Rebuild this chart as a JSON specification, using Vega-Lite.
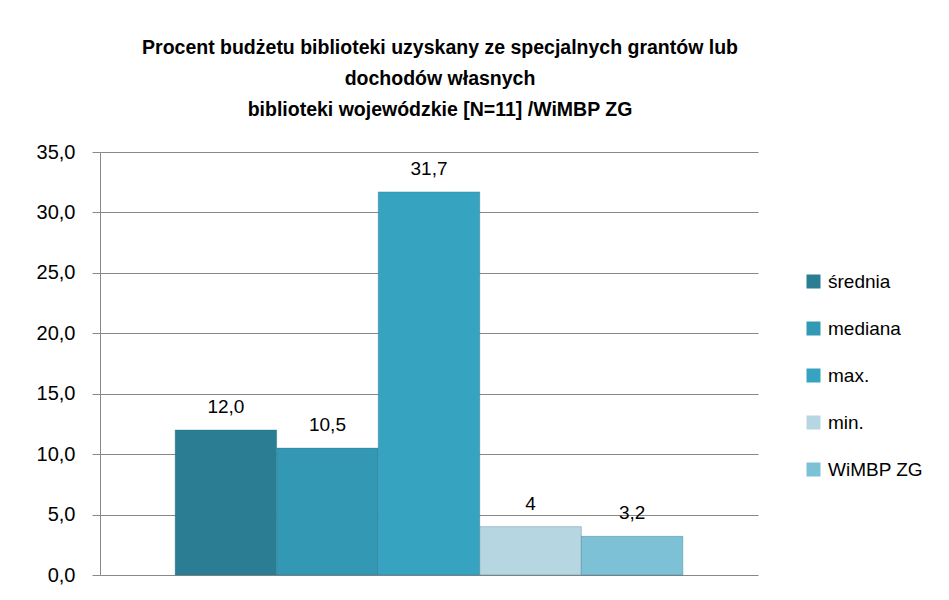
{
  "$schema": "https://vega.github.io/schema/vega-lite/v6.json",
  "autosize": "none",
  "width": 658,
  "height": 423,
  "padding": {"left": 100, "top": 152, "right": 191, "bottom": 25},
  "background": "white",
  "title": {
    "text": ["Procent budżetu biblioteki uzyskany ze specjalnych grantów lub", "dochodów własnych", "biblioteki wojewódzkie  [N=11] /WiMBP  ZG"],
    "font": "Liberation Sans",
    "fontSize": 19.5,
    "fontWeight": "bold",
    "color": "#000000",
    "lineHeight": 31,
    "anchor": "middle",
    "dx": 11,
    "offset": 22
  },
  "data": {
    "values": [
      {"seria": "średnia", "wartosc": 12.0, "etykieta": "12,0"},
      {"seria": "mediana", "wartosc": 10.5, "etykieta": "10,5"},
      {"seria": "max.", "wartosc": 31.7, "etykieta": "31,7"},
      {"seria": "min.", "wartosc": 4, "etykieta": "4"},
      {"seria": "WiMBP ZG", "wartosc": 3.2, "etykieta": "3,2"}
    ]
  },
  "encoding": {
    "x": {
      "field": "seria",
      "type": "nominal",
      "sort": null,
      "scale": {"paddingInner": 0, "paddingOuter": 0.74},
      "axis": null
    },
    "y": {
      "field": "wartosc",
      "type": "quantitative",
      "scale": {"domain": [0, 35], "nice": false},
      "axis": {
        "values": [0, 5, 10, 15, 20, 25, 30, 35],
        "title": null,
        "labelExpr": "replace(format(datum.value, '.1f'), '.', ',')",
        "labelFont": "Liberation Sans",
        "labelFontSize": 20,
        "labelColor": "#000000",
        "labelPadding": 17,
        "tickSize": 8,
        "tickColor": "#888888",
        "domainColor": "#888888",
        "gridColor": "#888888",
        "grid": true
      }
    }
  },
  "layer": [
    {
      "mark": {"type": "bar", "stroke": "#2d6f80", "strokeOpacity": 0.35, "strokeWidth": 1},
      "encoding": {
        "color": {
          "field": "seria",
          "type": "nominal",
          "sort": null,
          "scale": {
            "domain": ["średnia", "mediana", "max.", "min.", "WiMBP ZG"],
            "range": ["#2b7d93", "#3398b3", "#36a4c0", "#b6d7e2", "#7dc1d6"]
          },
          "legend": {
            "title": null,
            "orient": "none",
            "legendX": 704,
            "legendY": 120,
            "symbolType": "square",
            "symbolSize": 196,
            "symbolStrokeWidth": 0,
            "labelFont": "Liberation Sans",
            "labelFontSize": 19,
            "labelColor": "#000000",
            "labelOffset": 5,
            "rowPadding": 27
          }
        }
      }
    },
    {
      "mark": {"type": "text", "dy": -23, "baseline": "middle", "font": "Liberation Sans", "fontSize": 19, "color": "#000000"},
      "encoding": {"text": {"field": "etykieta"}}
    }
  ],
  "config": {"view": {"stroke": null}}
}
